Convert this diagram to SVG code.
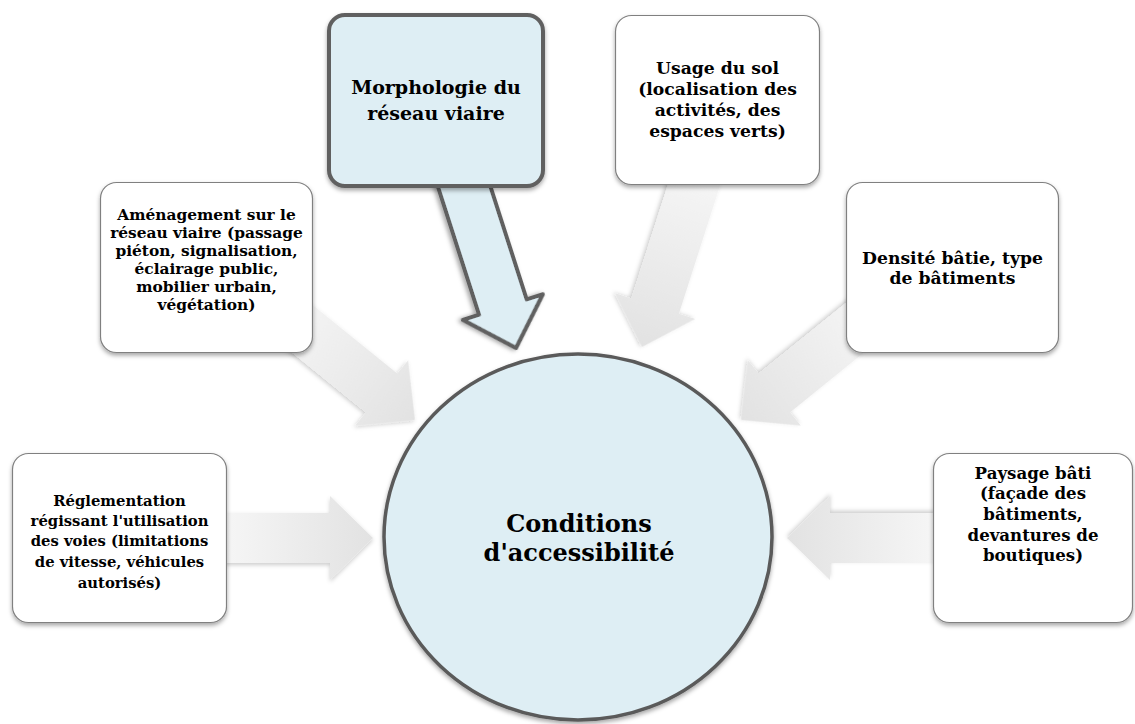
<svg xmlns="http://www.w3.org/2000/svg" width="1135" height="724" viewBox="0 0 1135 724">
<defs>
<linearGradient id="gArrow" x1="0" y1="0" x2="1" y2="0">
<stop offset="0" stop-color="#f6f6f6"/>
<stop offset="1" stop-color="#e2e2e2"/>
</linearGradient>
<filter id="sh" x="-20%" y="-20%" width="140%" height="140%">
<feDropShadow dx="0" dy="2.5" stdDeviation="2" flood-color="#000" flood-opacity="0.35"/>
</filter>
<filter id="shA" x="-20%" y="-20%" width="140%" height="140%">
<feDropShadow dx="0" dy="2" stdDeviation="2" flood-color="#000" flood-opacity="0.2"/>
</filter>
<path id="arr" d="M0,0 L-43,-42 L-43,-25 L-150,-25 L-150,25 L-43,25 L-43,42 Z"/>
<path id="arrL" d="M0,0 L-43,-42 L-43,-25 L-175,-25 L-175,25 L-43,25 L-43,42 Z"/>
<path id="arrXL" d="M0,0 L-43,-42 L-43,-25 L-185,-25 L-185,25 L-43,25 L-43,42 Z"/>
</defs>
<style>
.box{fill:#ffffff;stroke:#808080;stroke-width:1.2;filter:url(#sh)}
.hl{fill:#deeef4;stroke:#606060;stroke-width:4;filter:url(#sh)}
.ga{fill:url(#gArrow);filter:url(#shA)}
.ba{fill:#deeef4;stroke:#606060;stroke-width:4;stroke-linejoin:round;filter:url(#sh)}
.t{font-family:"DejaVu Serif","Liberation Serif",serif;font-weight:bold;fill:#000;text-anchor:middle}
.r{font-size:14.8px}
.a{font-size:15.4px}
.u{font-size:17.2px}
.d{font-size:17.2px}
.p{font-size:16.6px}
.m{font-size:19px}
.c{font-size:24px}
</style>
<rect width="1135" height="724" fill="#ffffff"/>
<g id="connectors">
<use href="#arr" class="ga" transform="translate(373,538)"/>
<use href="#arr" class="ga" transform="translate(787,538) rotate(180)"/>
<use href="#arrL" class="ga" transform="translate(415,420) rotate(39)"/>
<use href="#arrL" class="ga" transform="translate(741,420) rotate(141)"/>
<use href="#arrXL" class="ga" transform="translate(642,347) rotate(107.8)"/>
<use href="#arrXL" class="ba" transform="translate(516,348) rotate(72.2)"/>
</g>
<g id="node-center">
<ellipse cx="578" cy="537" rx="194" ry="183" fill="#deeef4" stroke="#5a5a5a" stroke-width="3.5" filter="url(#sh)"/>
<text class="t c" x="579" y="532">Conditions</text>
<text class="t c" x="579" y="561">d'accessibilité</text>
</g>
<g id="node-morphologie">
<rect class="hl" x="329" y="15" width="214" height="171" rx="16"/>
<text class="t m" x="436" y="94">Morphologie du</text>
<text class="t m" x="436" y="120">réseau viaire</text>
</g>
<g id="node-usage">
<rect class="box" x="615.5" y="15.5" width="204" height="169" rx="16"/>
<text class="t u" x="717.5" y="74">Usage du sol</text>
<text class="t u" x="717.5" y="95">(localisation des</text>
<text class="t u" x="717.5" y="116">activités, des</text>
<text class="t u" x="717.5" y="137">espaces verts)</text>
</g>
<g id="node-amenagement">
<rect class="box" x="100.5" y="182.5" width="212" height="170" rx="16"/>
<text class="t a" x="206.5" y="220">Aménagement sur le</text>
<text class="t a" x="206.5" y="238">réseau viaire (passage</text>
<text class="t a" x="206.5" y="256">piéton, signalisation,</text>
<text class="t a" x="206.5" y="274">éclairage public,</text>
<text class="t a" x="206.5" y="292">mobilier urbain,</text>
<text class="t a" x="206.5" y="310">végétation)</text>
</g>
<g id="node-densite">
<rect class="box" x="846.5" y="182.5" width="212" height="170" rx="16"/>
<text class="t d" x="952.5" y="264">Densité bâtie, type</text>
<text class="t d" x="952.5" y="284">de bâtiments</text>
</g>
<g id="node-reglementation">
<rect class="box" x="12.5" y="453.5" width="214" height="169" rx="16"/>
<text class="t r" x="119.5" y="506">Réglementation</text>
<text class="t r" x="119.5" y="526">régissant l'utilisation</text>
<text class="t r" x="119.5" y="546">des voies (limitations</text>
<text class="t r" x="119.5" y="567">de vitesse, véhicules</text>
<text class="t r" x="119.5" y="588">autorisés)</text>
</g>
<g id="node-paysage">
<rect class="box" x="933.5" y="453.5" width="199" height="169" rx="16"/>
<text class="t p" x="1033" y="479">Paysage bâti</text>
<text class="t p" x="1033" y="499">(façade des</text>
<text class="t p" x="1033" y="520">bâtiments,</text>
<text class="t p" x="1033" y="541">devantures de</text>
<text class="t p" x="1033" y="561">boutiques)</text>
</g>
</svg>
